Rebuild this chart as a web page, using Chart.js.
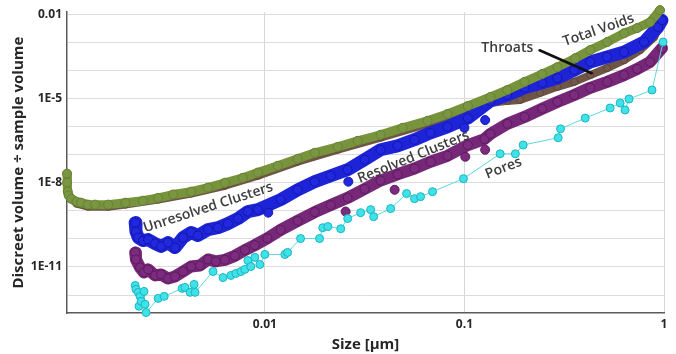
<!DOCTYPE html>
<html>
<head>
<meta charset="utf-8">
<script src="https://cdn.jsdelivr.net/npm/chart.js@4.4.1/dist/chart.umd.min.js"></script>
<style>
  html, body { margin: 0; padding: 0; background: #fff; }
  #wrap { width: 676px; height: 354px; }
</style>
</head>
<body>
<div id="wrap"><canvas id="poreChart"></canvas></div>
<script>
// Total Voids
const totalSize = [0.00102,0.00102,0.00103,0.00104,0.00107,0.00114,0.0012,0.0013,0.00141,0.00164,0.002,0.00245,0.00292,0.00347,0.00427,0.00519,0.00631,0.00776,0.00923,0.0116,0.0146,0.0178,0.0232,0.0292,0.038,0.049,0.0653,0.0822,0.104,0.135,0.164,0.2,0.245,0.292,0.359,0.427,0.519,0.631,0.733,0.851,0.955];
const totalVol = [2.1e-8,1e-8,4.8e-9,3.5e-9,2.7e-9,2.1e-9,1.95e-9,1.66e-9,1.66e-9,1.66e-9,1.95e-9,2.3e-9,2.9e-9,3.8e-9,4.8e-9,6.7e-9,1e-8,1.5e-8,2.3e-8,4e-8,7.1e-8,1.16e-7,1.9e-7,3.1e-7,5.1e-7,9e-7,1.6e-6,2.8e-6,5.4e-6,1.13e-5,2e-5,3.9e-5,7.4e-5,1.3e-4,2.7e-4,5.3e-4,1.02e-3,2.1e-3,3.2e-3,5.2e-3,1.4e-2];

// Throats
const throatSize = [0.00102,0.00104,0.00114,0.0013,0.00164,0.002,0.00292,0.00427,0.00631,0.00923,0.0146,0.0232,0.038,0.0653,0.104,0.135,0.164,0.19,0.239,0.292,0.355,0.427,0.519,0.631,0.759,0.891,0.955];
const throatVol = [7.8e-9,3.5e-9,1.8e-9,1.4e-9,1.4e-9,1.66e-9,2.5e-9,4.1e-9,7.8e-9,1.77e-8,5.6e-8,1.49e-7,4e-7,1.25e-6,3.9e-6,6.9e-6,8.2e-6,8.9e-6,1.57e-5,2.6e-5,3.9e-5,6.8e-5,1.21e-4,2.3e-4,5.3e-4,1.5e-3,4.1e-3];

// Unresolved Clusters
const unresSize = [0.00224,0.00226,0.00232,0.00245,0.0026,0.00282,0.00302,0.00327,0.00355,0.00389,0.00427,0.00462,0.00519,0.00582,0.00653,0.00733,0.00822,0.00923,0.012,0.0146,0.0178,0.0214,0.026,0.0316,0.038,0.0462,0.0562,0.0676,0.0822,0.104,0.135,0.164,0.2,0.245,0.292,0.355,0.427,0.519,0.631,0.794,0.933,0.977];
const unresVol = [3.8e-10,1.83e-10,1.12e-10,8.7e-11,9.5e-11,6.8e-11,5.4e-11,7.4e-11,4.9e-11,1.12e-10,1.7e-10,1.32e-10,2.15e-10,2.5e-10,3.5e-10,5.3e-10,9.4e-10,1.1e-9,2.5e-9,5.6e-9,1.09e-8,1.77e-8,2.9e-8,6.6e-8,1.49e-7,2.06e-7,3.4e-7,6e-7,9.8e-7,2e-6,8.2e-6,1.33e-5,2.4e-5,3.6e-5,5.3e-5,1.03e-4,2e-4,3e-4,4.5e-4,1.02e-3,3.5e-3,6.1e-3];
const unresOddSize = [0.0104,0.0262,0.1,0.127];
const unresOddVol = [8.6e-10,1.09e-8,9e-7,1.7e-6];

// Resolved Clusters
const resSize = [0.00224,0.00226,0.00237,0.00248,0.0026,0.00282,0.00302,0.00327,0.00355,0.00389,0.00427,0.00473,0.00519,0.00567,0.00631,0.00708,0.00794,0.00891,0.0103,0.012,0.0146,0.0178,0.0214,0.026,0.0316,0.038,0.0462,0.0562,0.0676,0.0822,0.104,0.126,0.135,0.164,0.2,0.245,0.292,0.355,0.427,0.519,0.631,0.733,0.851,0.977];
const resVol = [3.3e-11,1.86e-11,9.6e-12,6.4e-12,8.2e-12,5e-12,5.4e-12,3.9e-12,4.6e-12,6.9e-12,1.04e-11,1.13e-11,1.86e-11,1.58e-11,1.8e-11,2.5e-11,4e-11,6e-11,1.05e-10,2.1e-10,4.4e-10,9e-10,1.6e-9,2.9e-9,6e-9,1.2e-8,2e-8,3.2e-8,5.6e-8,9.1e-8,2.2e-7,3.6e-7,5.5e-7,1.25e-6,2.2e-6,4.3e-6,7.5e-6,1.33e-5,2.4e-5,3.9e-5,6.8e-5,1.12e-4,2e-4,6.2e-4];
const resOddSize = [0.0254,0.0447,0.101,0.127];
const resOddVol = [9.4e-10,5.6e-9,8.4e-8,1.49e-7];

// Pores
const poreSize = [0.00224,0.00226,0.00232,0.00234,0.00237,0.0024,0.00248,0.00251,0.00254,0.00292,0.00313,0.00385,0.00398,0.00422,0.00442,0.00447,0.0055,0.00617,0.00676,0.00716,0.00759,0.00794,0.00822,0.00851,0.00891,0.00944,0.01,0.0126,0.013,0.0151,0.0188,0.0195,0.0207,0.024,0.026,0.0302,0.0339,0.0351,0.0427,0.0513,0.0562,0.0603,0.0692,0.0989,0.151,0.18,0.197,0.295,0.303,0.403,0.537,0.603,0.638,0.668,0.871,0.99];
const poreVol = [2.2e-12,1.6e-12,1.25e-12,4e-13,9e-13,6e-13,1.35e-12,4.7e-13,2.4e-13,7.6e-13,9e-13,1.73e-12,1.87e-12,1.25e-12,2.4e-12,1.25e-12,6.9e-12,4.2e-12,5e-12,5.9e-12,6.9e-12,8.2e-12,1.7e-11,1.04e-11,2.2e-11,1.23e-11,2.8e-11,2.8e-11,3.3e-11,1.03e-10,1.03e-10,2.5e-10,2.75e-10,2.3e-10,5.3e-10,8.6e-10,1.1e-9,6.2e-10,1.2e-9,4.1e-9,2.7e-9,3.2e-9,4.8e-9,1.4e-8,1.07e-7,1.07e-7,2.2e-7,4e-7,8.3e-7,2e-6,4.6e-6,6.9e-6,3.9e-6,9.6e-6,2e-5,1.02e-3];

// axis ticks
const xTickValues = [0.01, 0.1, 1];
const xTickText = ['0.01', '0.1', '1'];
const yTickValues = [1e-12, 1e-11, 1e-10, 1e-9, 1e-8, 1e-7, 1e-6, 1e-5, 1e-4, 1e-3, 1e-2];
const yTickText = ['', '1E-11', '', '', '1E-8', '', '', '1E-5', '', '', '0.01'];

// in-plot labels (centre in data units)
const labelText = ['Total Voids', 'Throats', 'Unresolved Clusters', 'Resolved Clusters', 'Pores'];
const labelSize = [0.47, 0.164, 0.0052, 0.0555, 0.157];
const labelVol = [2.7e-3, 6.2e-4, 1.3e-9, 8.2e-8, 3.3e-8];
const labelAngle = [-19, 0, -18, -22, -21];
const arrowSize = [0.238, 0.434];
const arrowVol = [5.2e-4, 7.9e-5];

function pts(xs, ys) {
    return xs.map((v, i) => ({ x: v, y: ys[i] }));
}

Chart.defaults.font.family = '"Open Sans", sans-serif';

const annotate = {
    id: 'annotate',
    afterDatasetsDraw(chart) {
        const { ctx, scales: { x, y } } = chart;
        ctx.save();
        ctx.strokeStyle = '#111';
        ctx.lineWidth = 2.6;
        ctx.lineCap = 'round';
        ctx.beginPath();
        ctx.moveTo(x.getPixelForValue(arrowSize[0]), y.getPixelForValue(arrowVol[0]));
        ctx.lineTo(x.getPixelForValue(arrowSize[1]), y.getPixelForValue(arrowVol[1]));
        ctx.stroke();

        ctx.font = '600 14px "Open Sans"';
        ctx.fillStyle = '#3c3c3c';
        ctx.textAlign = 'center';
        ctx.textBaseline = 'middle';
        labelText.forEach((t, i) => {
            ctx.save();
            ctx.translate(x.getPixelForValue(labelSize[i]), y.getPixelForValue(labelVol[i]));
            ctx.rotate(labelAngle[i] * Math.PI / 180);
            ctx.fillText(t, 0, 0);
            ctx.restore();
        });
        ctx.restore();
    }
};

const ctx = document.getElementById('poreChart').getContext('2d');
new Chart(ctx, {
    type: 'scatter',
    data: {
        datasets: [
            {
                label: 'Total Voids', data: pts(totalSize, totalVol), showLine: true, clip: 8,
                borderColor: '#77933c', borderWidth: 9, borderJoinStyle: 'round', borderCapStyle: 'round',
                pointRadius: 4.5, pointBackgroundColor: '#7a9642', pointBorderColor: '#66822f', pointBorderWidth: 1
            },
            {
                label: 'Unresolved odd', data: pts(unresOddSize, unresOddVol), showLine: false,
                pointRadius: 4.5, pointBackgroundColor: '#2228e0', pointBorderColor: '#1318a8', pointBorderWidth: 1
            },
            {
                label: 'Unresolved Clusters', data: pts(unresSize, unresVol), showLine: true, clip: 8,
                borderColor: '#1d24d8', borderWidth: 13, borderJoinStyle: 'round', borderCapStyle: 'round',
                pointRadius: 4.5, pointBackgroundColor: '#2228e0', pointBorderColor: '#1318a8', pointBorderWidth: 1
            },
            {
                label: 'Pores', data: pts(poreSize, poreVol), showLine: true, clip: 8,
                borderColor: '#5ad8e2', borderWidth: 1,
                pointRadius: 4, pointBackgroundColor: '#3fe2e6', pointBorderColor: '#1db4c4', pointBorderWidth: 1
            },
            {
                label: 'Throats', data: pts(throatSize, throatVol), showLine: true, clip: 8,
                borderColor: '#6f5546', borderWidth: 8, borderJoinStyle: 'round', borderCapStyle: 'round',
                pointRadius: 3.5, pointBackgroundColor: '#735a4b', pointBorderColor: '#5e4538', pointBorderWidth: 1
            },
            {
                label: 'Resolved odd', data: pts(resOddSize, resOddVol), showLine: false,
                pointRadius: 4.5, pointBackgroundColor: '#7c2b7e', pointBorderColor: '#5a1b5c', pointBorderWidth: 1
            },
            {
                label: 'Resolved Clusters', data: pts(resSize, resVol), showLine: true, clip: 8,
                borderColor: '#772777', borderWidth: 12, borderJoinStyle: 'round', borderCapStyle: 'round',
                pointRadius: 4.5, pointBackgroundColor: '#7c2b7e', pointBorderColor: '#5a1b5c', pointBorderWidth: 1
            }
        ]
    },
    options: {
        responsive: true,
        maintainAspectRatio: false,
        animation: false,
        events: [],
        layout: { padding: { top: 12, right: 12, left: 0, bottom: 0 } },
        plugins: { legend: { display: false }, tooltip: { enabled: false } },
        scales: {
            x: {
                type: 'logarithmic',
                min: 0.00102,
                max: 1,
                afterFit: s => { s.height = 41; },
                afterBuildTicks: s => { s.ticks = xTickValues.map(v => ({ value: v })); },
                ticks: {
                    callback: (v, i) => xTickText[i],
                    color: '#262626',
                    font: { size: 12, weight: 'bold' },
                    padding: 4,
                    maxRotation: 0,
                    autoSkip: false
                },
                grid: { color: '#d6d6d6', drawTicks: false },
                border: { color: '#5a5a5a', width: 1.5 },
                title: {
                    display: true,
                    text: 'Size [µm]',
                    color: '#262626',
                    font: { size: 15, weight: 'bold' },
                    padding: { top: 0, bottom: 0 }
                }
            },
            y: {
                type: 'logarithmic',
                min: 2.3e-13,
                max: 0.0118,
                afterFit: s => { s.width = 67; },
                afterBuildTicks: s => { s.ticks = yTickValues.map(v => ({ value: v })); },
                ticks: {
                    callback: (v, i) => yTickText[i],
                    color: '#262626',
                    font: { size: 12, weight: 'bold' },
                    padding: 5,
                    autoSkip: false
                },
                grid: { color: '#dcdcdc', drawTicks: false },
                border: { color: '#5a5a5a', width: 1.5 },
                title: {
                    display: true,
                    text: 'Discreet volume ÷ sample volume',
                    color: '#262626',
                    font: { size: 15, weight: 'bold' },
                    padding: { top: 10, bottom: 0 }
                }
            }
        }
    },
    plugins: [annotate]
});
</script>
</body>
</html>
